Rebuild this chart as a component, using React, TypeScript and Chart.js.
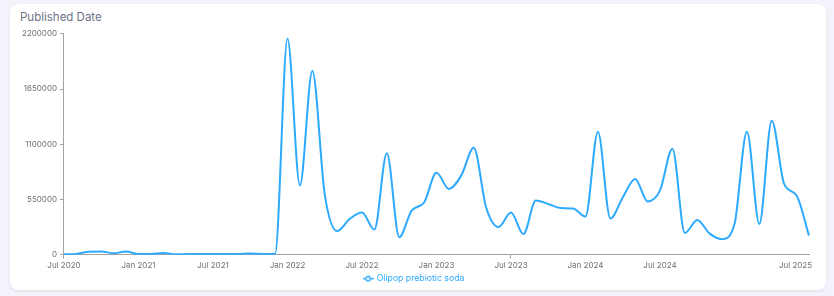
import React, { useEffect, useRef } from 'react';
import { Chart, registerables } from 'chart.js';

Chart.register(...registerables);

const MONTH_NAMES = ['Jan', 'Feb', 'Mar', 'Apr', 'May', 'Jun', 'Jul', 'Aug', 'Sep', 'Oct', 'Nov', 'Dec'];

// Monthly categories from Jul 2020 to Jul 2025
const months: string[] = [];
for (let k = 0; k < 61; k++) {
  const m = (6 + k) % 12;
  const y = 2020 + Math.floor((6 + k) / 12);
  months.push(`${MONTH_NAMES[m]} ${y}`);
}

// Months that carry an axis label
const labelledMonths = ['Jul 2020', 'Jan 2021', 'Jul 2021', 'Jan 2022', 'Jul 2022', 'Jan 2023', 'Jul 2023', 'Jan 2024', 'Jul 2024', 'Jul 2025'];

const seriesName = 'Olipop prebiotic soda';
const seriesValues = [
  5000, 8000, 30000, 32000, 14000, 32000, 7000, 6000, 16000, 5000,
  6000, 6000, 6000, 7000, 8000, 13000, 6000, 7000, 2150000, 690000,
  1830000, 600000, 235000, 355000, 420000, 250000, 1010000, 175000, 440000, 520000,
  815000, 655000, 790000, 1065000, 470000, 275000, 420000, 205000, 540000, 505000,
  465000, 460000, 380000, 1225000, 360000, 570000, 755000, 530000, 640000, 1055000,
  215000, 345000, 210000, 155000, 305000, 1225000, 305000, 1335000, 705000, 590000,
  190000,
];

const yTicks = [0, 550000, 1100000, 1650000, 2200000];

const LINE_COLOR = '#2DAAFF';
const AXIS_COLOR = '#a3a3a3';
const TICK_TEXT = '#6f6f78';
const FONT = 'Inter, "Noto Sans", sans-serif';

function makeLegendIcon(): HTMLCanvasElement {
  const c = document.createElement('canvas');
  c.width = 11;
  c.height = 7;
  const g = c.getContext('2d')!;
  g.strokeStyle = LINE_COLOR;
  g.lineWidth = 1.4;
  g.beginPath();
  g.moveTo(0, 3.5);
  g.lineTo(11, 3.5);
  g.stroke();
  g.beginPath();
  g.arc(5.5, 3.5, 2.2, 0, Math.PI * 2);
  g.fillStyle = '#ffffff';
  g.fill();
  g.stroke();
  return c;
}

export default function App() {
  const canvasRef = useRef<HTMLCanvasElement | null>(null);

  useEffect(() => {
    document.body.style.margin = '0';
    const canvas = canvasRef.current;
    if (!canvas) return;
    const icon = makeLegendIcon();
    const lastIdx = months.length - 1;
    const chart = new Chart(canvas, {
      type: 'line',
      data: {
        labels: months,
        datasets: [
          {
            label: seriesName,
            data: seriesValues,
            borderColor: LINE_COLOR,
            backgroundColor: LINE_COLOR,
            borderWidth: 2,
            pointRadius: 0,
            pointHoverRadius: 0,
            pointStyle: icon as any,
            fill: false,
            cubicInterpolationMode: 'monotone',
          },
        ],
      },
      options: {
        responsive: false,
        animation: false,
        layout: { padding: { left: 9, right: 17, top: 3.5, bottom: 0 } },
        plugins: {
          tooltip: { enabled: false },
          legend: {
            position: 'bottom',
            labels: {
              usePointStyle: true,
              color: LINE_COLOR,
              font: { family: FONT, size: 8.7 },
              padding: 2,
            },
          },
        },
        scales: {
          x: {
            type: 'category',
            offset: false,
            grid: {
              drawOnChartArea: false,
              tickLength: 4,
              color: (ctx: any) => (labelledMonths.includes(months[ctx.index]) ? AXIS_COLOR : 'rgba(0,0,0,0)'),
            },
            border: { display: true, color: AXIS_COLOR, width: 1 },
            ticks: {
              autoSkip: false,
              maxRotation: 0,
              minRotation: 0,
              padding: 2,
              color: TICK_TEXT,
              font: { family: FONT, size: 8 },
              callback: (_v: any, idx: number) => {
                const lab = months[idx];
                if (!labelledMonths.includes(lab)) return null;
                if (idx === lastIdx) return lab + '\u00a0'.repeat(12);
                return lab;
              },
            },
            afterFit: (scale: any) => {
              scale.paddingRight = 0;
            },
          },
          y: {
            type: 'linear',
            min: yTicks[0],
            max: yTicks[yTicks.length - 1],
            afterBuildTicks: (scale: any) => {
              scale.ticks = yTicks.map((v) => ({ value: v }));
            },
            grid: { drawOnChartArea: false, tickLength: 4, color: AXIS_COLOR },
            border: { display: true, color: AXIS_COLOR, width: 1 },
            ticks: {
              padding: 3,
              color: TICK_TEXT,
              font: { family: FONT, size: 8 },
              callback: (v: any) => String(v),
            },
          },
        },
      },
    });
    return () => chart.destroy();
  }, []);

  return (
    <div style={{ position: 'fixed', left: 0, top: 0, width: 834, height: 296, background: '#f3f3fb', overflow: 'hidden' }}>
      <div
        style={{
          position: 'absolute',
          left: 10,
          top: 4,
          width: 816,
          height: 286,
          background: '#ffffff',
          borderRadius: 8,
          boxShadow: '0 1px 3px rgba(60,60,100,0.10)',
        }}
      >
        <div
          style={{
            position: 'absolute',
            left: 10,
            top: 6,
            fontFamily: FONT,
            fontSize: 11.5,
            color: '#6b7386',
            whiteSpace: 'nowrap',
          }}
        >
          Published Date
        </div>
        <canvas ref={canvasRef} width={816} height={267} style={{ position: 'absolute', left: 0, top: 22 }} />
      </div>
    </div>
  );
}
